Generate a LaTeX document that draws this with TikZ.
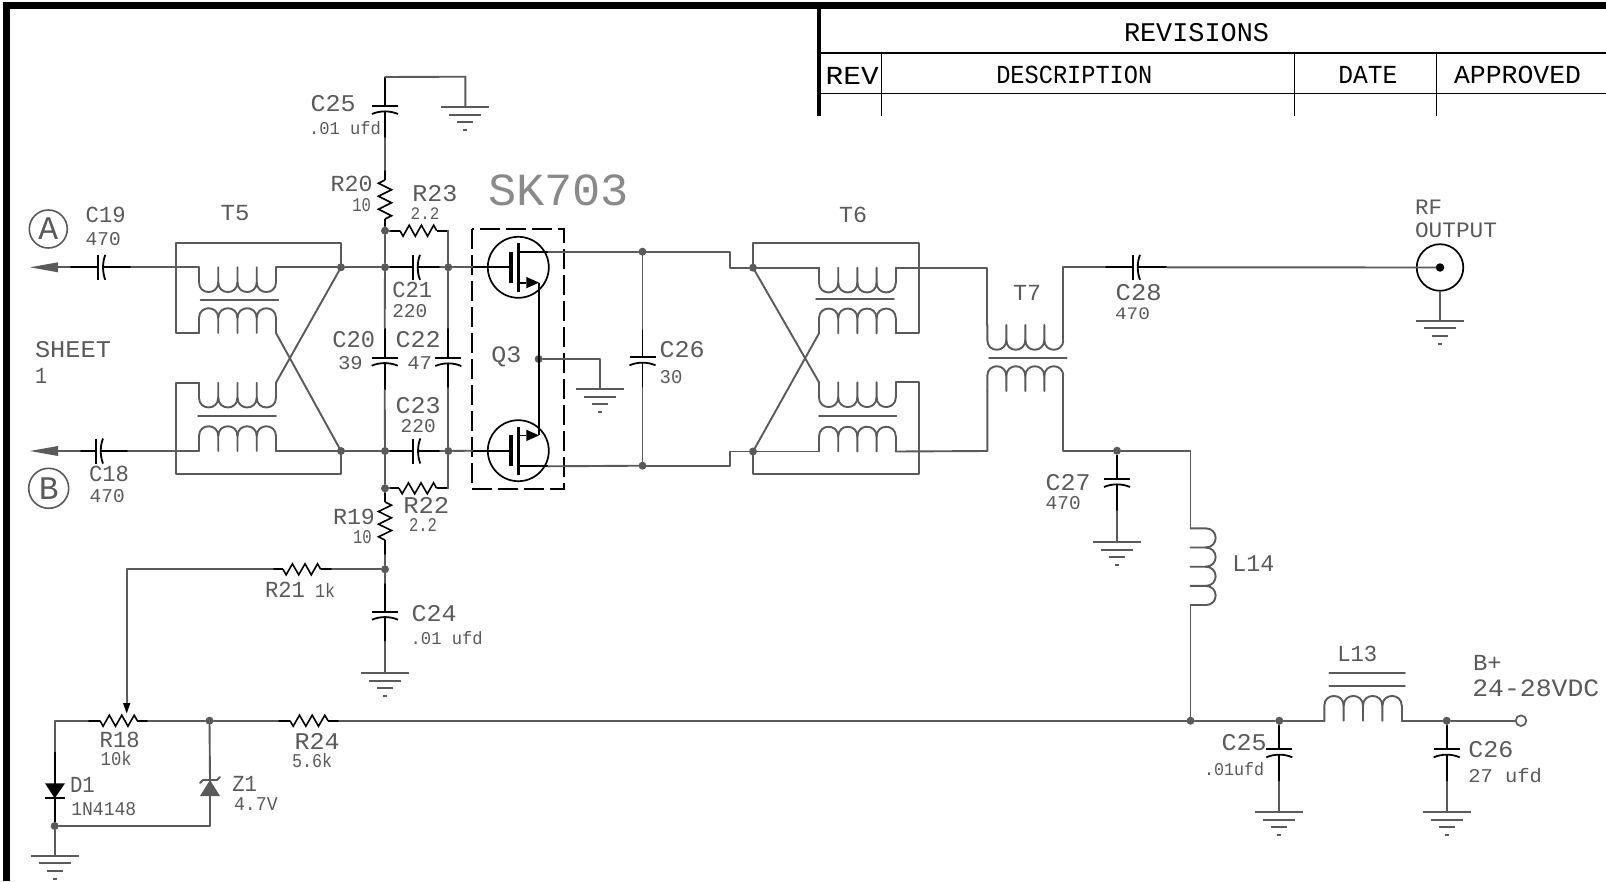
\documentclass[tikz,border=0pt]{standalone}
\usepackage{fontspec}
\setmainfont{Liberation Mono}
\begin{document}
\definecolor{ink}{HTML}{5A5A5A}
\definecolor{soft}{HTML}{8A8A8A}
\def\labcol{ink}
\tikzset{
  wire/.style={draw=ink,line width=1.9pt,line cap=round,line join=round},
  part/.style={draw=black,line width=1.8pt,line cap=butt,line join=miter},
  dot/.style={circle,fill=ink,draw=none,inner sep=0pt,minimum size=8pt},
  lab/.style={inner sep=0pt,outer sep=0pt,anchor=base west,xshift=-1pt}
}
% label: name, x, baseline y, font size, ink width, text
\newcommand\lab[6]{\node[lab,text=\labcol] (#1) at (#2,#3) {\resizebox{\dimexpr#5pt+2pt\relax}{\height}{\fontsize{#4pt}{#4pt}\selectfont #6}};}
% horizontal capacitor: name, plate x, y, left lead, right lead
\newcommand\capH[5]{
  \coordinate (#1-a) at (#4,#3); \coordinate (#1-b) at (#5,#3);
  \begin{scope}[shift={(#2,#3)}]
    \draw[part] (#4-#2,0) -- (0,0) (0,-12.5) -- (0,12.5);
    \draw[part] (7,-12.5) .. controls (4,-5) and (4,5) .. (7,12.5);
    \draw[part] (5,0) -- (#5-#2,0);
  \end{scope}}
% vertical capacitor: name, x, plate y, top lead, bottom lead
\newcommand\capV[5]{
  \coordinate (#1-a) at (#2,#4); \coordinate (#1-b) at (#2,#5);
  \begin{scope}[shift={(#2,#3)}]
    \draw[part] (0,#4-#3) -- (0,0) (-13,0) -- (13,0);
    \draw[part] (-13,8) .. controls (-5,4.5) and (5,4.5) .. (13,8);
    \draw[part] (0,5.5) -- (0,#5-#3);
  \end{scope}}
% horizontal resistor: name, zig start, zig end, y, left lead, right lead
\newcommand\resH[6]{
  \coordinate (#1-a) at (#5,#4); \coordinate (#1-b) at (#6,#4);
  \draw[part] (#1-a) -- (#2,#4);
  \draw[part] (#3,#4) -- (#1-b);
  \pgfmathsetmacro\pp{(#3-#2)/3}
  \begin{scope}[shift={(#2,#4)},x=\pp pt]
    \draw[part,line width=1.6pt] (0,0) -- (.25,5.5) -- (.75,-5.5) -- (1.25,5.5) -- (1.75,-5.5) -- (2.25,5.5) -- (2.75,-5.5) -- (3,0);
  \end{scope}}
% vertical resistor: name, x, zig start, zig end, top lead, bottom lead, first side
\newcommand\resV[7]{
  \coordinate (#1-a) at (#2,#5); \coordinate (#1-b) at (#2,#6);
  \draw[part] (#1-a) -- (#2,#3);
  \draw[part] (#2,#4) -- (#1-b);
  \pgfmathsetmacro\pp{(#4-#3)/3}
  \begin{scope}[shift={(#2,#3)},y=-\pp pt]
    \draw[part,line width=1.6pt] (0,0) -- (#7*6.5,.25) -- (-#7*6.5,.75) -- (#7*6.5,1.25) -- (-#7*6.5,1.75) -- (#7*6.5,2.25) -- (-#7*6.5,2.75) -- (0,3);
  \end{scope}}
% coil: name, x, y of terminals, dir (-1 bumps down, 1 bumps up), bump width
\newcommand\coil[5]{
  \coordinate (#1-l) at (#2,#3);
  \coordinate (#1-r) at (#2+4*#5,#3);
  \begin{scope}[shift={(#2,#3)},y=#4pt]
    \foreach \i in {0,1,2,3}{
      \draw[wire] (\i*#5,0) -- (\i*#5,15)
        .. controls (\i*#5,28) and (\i*#5+#5,28) .. (\i*#5+#5,15);}
    \draw[wire] (4*#5,0) -- (4*#5,15);
  \end{scope}}
% ground: name, x, y
\newcommand\gnd[3]{
  \coordinate (#1) at (#2,#3);
  \begin{scope}[shift={(#2,#3)}]
    \draw[wire,line cap=butt] (-24,0) -- (24,0) (-16,7.7) -- (16,7.7) (-8,15) -- (8,15) (-2,23) -- (2,23);
  \end{scope}}
% mosfet: name, cx, cy, dir
\newcommand\mos[4]{
  \node[circle,draw=black,line width=1.7pt,minimum size=61pt,inner sep=0pt] (#1) at (#2,#3) {};
  \begin{scope}[shift={(#2,#3)},y=#4pt]
    \coordinate (#1-g) at (-46,0);
    \coordinate (#1-d) at (30,-15.6);
    \coordinate (#1-s) at (20.7,15.3);
    \draw[part] (#1-g) -- (-9,0);
    \draw[black,line width=4pt] (-7.3,-15.6) -- (-7.3,15.3);
    \draw[black,line width=3pt] (0,-24.2) -- (0,24.2);
    \draw[part] (0,-15.6) -- (#1-d);
    \draw[part] (0,15.3) -- (8,15.3);
    \fill[black] (8,9.6) -- (20.7,15.3) -- (8,21) -- cycle;
  \end{scope}}
\begin{tikzpicture}[x=1pt,y=-1pt]
\useasboundingbox (0,0) rectangle (1606,881);
\fill[white] (0,0) rectangle (1606,881);
% sheet border
\fill[black] (3.3,2) rectangle (10,881);
\fill[black] (3.3,2) rectangle (1606,8.7);
% revisions table
\coordinate (t0) at (819.3,8);
\coordinate (t0b) at (819.3,116);
\coordinate (h1l) at (819.3,53.3); \coordinate (h1r) at (1606,53.3);
\coordinate (h2l) at (819.3,93.5); \coordinate (h2r) at (1606,93.5);
\coordinate (v1t) at (881.7,53.3); \coordinate (v1b) at (881.7,116);
\coordinate (v2t) at (1294.3,53.3); \coordinate (v2b) at (1294.3,116);
\coordinate (v3t) at (1436.7,53.3); \coordinate (v3b) at (1436.7,116);
\draw[black,line width=4pt] (t0) -- (t0b);
\draw[black,line width=1.8pt] (h1l) -- (h1r) (h2l) -- (h2r);
\draw[black,line width=1.5pt] (v1t) -- (v1b) (v2t) -- (v2b) (v3t) -- (v3b);
\def\labcol{black}
\lab{tRev}{1125}{41.7}{27}{143}{REVISIONS}
\lab{tR}{826.7}{84}{26}{51}{REV}
\lab{tD}{997.3}{83.3}{26}{154}{DESCRIPTION}
\lab{tDa}{1339.3}{83.3}{26}{57}{DATE}
\lab{tAp}{1455}{83.3}{26}{125}{APPROVED}
\def\labcol{ink}

% junctions
\node[dot] (jA) at (341,267.3) {};
\node[dot] (jB) at (341,451) {};
\node[dot] (j1) at (385,267.3) {};
\node[dot] (j2) at (385,230.7) {};
\node[dot] (j3) at (448.3,267.3) {};
\node[dot] (j4) at (385,451) {};
\node[dot] (j5) at (448.3,451) {};
\node[dot] (j6) at (385,488.3) {};
\node[dot] (j7) at (385,569.3) {};
\node[dot] (jQ) at (538.7,359) {};
\node[dot] (jD1) at (642.5,251.7) {};
\node[dot] (jD2) at (642.5,465.7) {};
\node[dot] (jT6a) at (753,267.7) {};
\node[dot] (jT6b) at (753,451.5) {};
\node[dot] (jL) at (1117,450.7) {};
\node[dot] (jV) at (1190.5,720.7) {};
\node[dot] (jC25) at (1279.3,720.7) {};
\node[dot] (jC26) at (1446.7,720.7) {};
\node[dot] (jZ) at (209.5,720.7) {};
\node[dot] (jG) at (54.7,826) {};

% T5
\coil{T5a}{199}{267.3}{-1}{19.25}
\coil{T5b}{199}{333}{1}{19.25}
\coil{T5c}{199}{382.7}{-1}{19.25}
\coil{T5d}{199}{451}{1}{19.25}
\coordinate (T5tl) at (176,243); \coordinate (T5tr) at (341,243);
\coordinate (T5bl) at (176,474.3); \coordinate (T5br) at (341,474.3);
\coordinate (T5ml) at (176,333); \coordinate (T5nl) at (176,382.7);
\coordinate (k1a) at (200.7,300); \coordinate (k1b) at (278.3,300);
\coordinate (k2a) at (198,416); \coordinate (k2b) at (276,416);
\draw[wire] (k1a) -- (k1b) (k2a) -- (k2b);
\draw[wire] (T5b-l) -- (T5ml) -- (T5tl) -- (T5tr) -- (jA.center);
\draw[wire] (T5c-l) -- (T5nl) -- (T5bl) -- (T5br) -- (jB.center);
\draw[wire] (T5b-r) -- (jB.center);
\draw[wire] (T5c-r) -- (jA.center);
\draw[wire] (T5a-r) -- (jA.center);
\draw[wire] (T5d-r) -- (jB.center);

% input arrows and coupling caps
\coordinate (arA) at (58,267.3); \coordinate (arB) at (58,451);
\fill[ink] (30,267.3) -- (58,262.3) -- (58,272.3) -- cycle;
\fill[ink] (30,451) -- (58,446) -- (58,456) -- cycle;
\capH{C19}{98.3}{267.3}{70}{131}
\capH{C18}{96}{451}{80}{128}
\draw[wire] (arA) -- (C19-a);
\draw[wire] (C19-b) -- (T5a-l);
\draw[wire] (arB) -- (C18-a);
\draw[wire] (C18-b) -- (T5d-l);
\draw[wire] (jA) -- (j1);
\draw[wire] (jB) -- (j4);

% gate network
\capH{C21}{413}{267.3}{388}{440}
\capH{C23}{413.3}{451}{388}{440}
\capV{C20}{384.7}{357.7}{328}{390}
\capV{C22}{448.3}{358}{328}{388}
\resH{R23}{400}{436.7}{230.7}{390}{448.3}
\resH{R22}{399}{436.7}{488.3}{390}{448.3}
\resV{R20}{385}{180}{219}{170}{228}{-1}
\resV{R19}{385}{502}{540}{492}{555}{1}
\draw[wire] (j1) -- (C21-a);
\draw[wire] (C21-b) -- (j3);
\draw[wire] (j4) -- (C23-a);
\draw[wire] (C23-b) -- (j5);
\draw[wire] (j2) -- (R23-a);
\draw[wire] (j6) -- (R22-a);
\draw[wire] (R23-b) -- (j3);
\draw[wire] (R22-b) -- (j5);
\draw[wire] (j2) -- (j1);
\draw[wire] (j1) -- (C20-a);
\draw[wire] (C20-b) -- (j4);
\draw[wire] (j3) -- (C22-a);
\draw[wire] (C22-b) -- (j5);
\draw[wire] (j4) -- (j6);
\draw[wire] (j6) -- (R19-a);
\draw[wire] (R19-b) -- (j7);
\draw[wire] (R20-b) -- (j2);

% C25 at top
\capV{C25t}{385}{106}{77}{138}
\gnd{gT}{465.3}{107.3}
\coordinate (topR) at (465.3,76.7);
\draw[wire] (C25t-a) -- (topR) -- (gT);
\draw[wire] (C25t-b) -- (R20-a);

% Q3
\coordinate (qa) at (472.3,229); \coordinate (qb) at (564.3,489);
\draw[black,line width=1.7pt,dash pattern=on 20pt off 6pt] (qa) rectangle (qb);
\mos{Q1}{518.3}{267.3}{-1}
\mos{Q2}{518.3}{450.7}{1}
\draw[wire] (j3) -- (Q1-g);
\draw[wire] (j5) -- (Q2-g);
\draw[part] (Q1-s) -- (Q2-s);
\gnd{gQ}{600}{389}
\coordinate (qg) at (600,359);
\draw[wire] (jQ) -- (qg) -- (gQ);
\draw[wire] (Q1-d) -- (jD1);
\draw[wire] (Q2-d) -- (jD2);

% C26 and links to T6
\capV{C26m}{642.5}{357.3}{329}{388}
\draw[wire] (jD1) -- (C26m-a);
\draw[wire] (C26m-b) -- (jD2);
\coordinate (s1) at (730,251.7); \coordinate (s2) at (730,267.7);
\coordinate (s3) at (730,465.7); \coordinate (s4) at (730,451.5);
\draw[wire] (jD1) -- (s1) -- (s2) -- (jT6a);
\draw[wire] (jD2) -- (s3) -- (s4) -- (jT6b);

% T6
\coil{T6a}{819}{267.7}{-1}{19.2}
\coil{T6b}{819}{333.3}{1}{19.2}
\coil{T6c}{819}{382.3}{-1}{19.2}
\coil{T6d}{819}{451.5}{1}{19.2}
\coordinate (k3a) at (816,299.3); \coordinate (k3b) at (894,299.3);
\coordinate (k4a) at (819,416); \coordinate (k4b) at (896.3,416);
\draw[wire] (k3a) -- (k3b) (k4a) -- (k4b);
\coordinate (T6tl) at (753,242.7); \coordinate (T6tr) at (919,242.7);
\coordinate (T6bl) at (753,474.3); \coordinate (T6br) at (919,474.3);
\coordinate (T6mr) at (919,333.3); \coordinate (T6nr) at (919,382.3);
\draw[wire] (T6b-r) -- (T6mr) -- (T6tr) -- (T6tl) -- (jT6a.center);
\draw[wire] (T6c-r) -- (T6nr) -- (T6br) -- (T6bl) -- (jT6b.center);
\draw[wire] (T6b-l) -- (jT6b.center);
\draw[wire] (T6c-l) -- (jT6a.center);
\draw[wire] (jT6a) -- (T6a-l);
\draw[wire] (jT6b) -- (T6d-l);

% T7
\coil{T7a}{987.3}{325}{-1}{19}
\coil{T7b}{987.3}{391}{1}{19}
\coordinate (k5a) at (989,357.7); \coordinate (k5b) at (1066.7,357.7);
\draw[wire] (k5a) -- (k5b);
\coordinate (u1) at (987.3,267.7); \coordinate (u2) at (987.3,451);
\coordinate (u3) at (1063.3,267.3); \coordinate (u4) at (1063.3,450.7);
\draw[wire] (T6a-r) -- (u1) -- (T7a-l);
\draw[wire] (T6d-r) -- (u2) -- (T7b-l);
\capH{C28}{1133}{267.3}{1105}{1167}
\draw[wire] (T7a-r) -- (u3) -- (C28-a);
\draw[wire] (T7b-r) -- (u4) -- (jL);

% RF output
\node[circle,draw=black,line width=1.7pt,minimum size=46.6pt,inner sep=0pt] (RF) at (1440,267.5) {};
\node[circle,fill=black,inner sep=0pt,minimum size=8.5pt] (RFd) at (1440,267.5) {};
\gnd{gRF}{1440}{320.7}
\draw[wire] (C28-b) -- (RFd);
\draw[wire] (RF.south) -- (gRF);

% C27 and L14
\capV{C27m}{1117}{479}{455}{511}
\gnd{gL}{1117}{542.3}
\draw[wire] (C27m-b) -- (gL);
\coordinate (v1) at (1190.5,450.7);
\coordinate (L14t) at (1190.5,528.3); \coordinate (L14b) at (1190.5,605);
\begin{scope}[shift={(1190.5,528.3)}]
  \foreach \i in {0,1,2,3}{
    \draw[wire] (0,\i*19.2) -- (15,\i*19.2)
      .. controls (28.5,\i*19.2) and (28.5,\i*19.2+19.2) .. (15,\i*19.2+19.2);}
  \draw[wire] (0,76.7) -- (15,76.7);
\end{scope}
\draw[wire] (jL) -- (v1) -- (L14t);
\draw[wire] (L14b) -- (jV);

% bias network
\resH{R21}{283}{320.7}{569.3}{273}{332}
\draw[wire] (j7) -- (R21-b);
\resH{R18}{100}{137.3}{720.7}{88}{148}
\coordinate (wtop) at (126.7,569.3); \coordinate (wtip) at (126.7,705);
\draw[wire] (R21-a) -- (wtop) -- (wtip);
\fill[black] (123,703) -- (130.4,703) -- (126.7,713.5) -- cycle;
\capV{C24m}{385}{611.7}{583}{641.7}
\gnd{gC24}{385}{673.3}
\draw[wire] (j7) -- (C24m-a);
\draw[wire] (C24m-b) -- (gC24);
\resH{R24}{290}{328}{720.7}{278}{339}
\draw[wire] (R18-b) -- (jZ);
\draw[wire] (jZ) -- (R24-a);
\draw[wire] (R24-b) -- (jV);
\coordinate (d0) at (54.7,720.7); \coordinate (d1) at (54.7,751.7);
\draw[wire] (R18-a) -- (d0) -- (d1);
\draw[part] (d1) -- (jG);
\fill[black] (45,783.3) -- (65,783.3) -- (54.7,798.3) -- cycle;
\draw[part] (45,798.3) -- (65,798.3);
\gnd{gG}{54.7}{855.7}
\draw[wire] (jG) -- (gG);
\coordinate (z1) at (210,796); \coordinate (z2) at (210,826); \coordinate (z0) at (210,780);
\fill[ink] (200,796) -- (220,796) -- (210,780) -- cycle;
\draw[wire] (200,783) -- (203,780) -- (217,780) -- (220,777);
\draw[wire] (jZ) -- (z0);
\draw[wire] (z1) -- (z2) -- (jG);

% output side
\capV{C25b}{1279.3}{749.3}{725}{781.7}
\capV{C26b}{1446.7}{749.3}{725}{781.7}
\gnd{gC25}{1279.3}{812.3}
\gnd{gC26}{1446.7}{812.3}
\draw[wire] (jC25) -- (C25b-a);
\draw[wire] (C25b-b) -- (gC25);
\draw[wire] (jC26) -- (C26b-a);
\draw[wire] (C26b-b) -- (gC26);
\coil{L13}{1324.3}{720.7}{1}{19.35}
\coordinate (k6a) at (1329.3,673.3); \coordinate (k6b) at (1405,673.3);
\coordinate (k7a) at (1329.3,686); \coordinate (k7b) at (1405,686);
\draw[wire] (k6a) -- (k6b) (k7a) -- (k7b);
\node[circle,draw=ink,line width=1.7pt,fill=white,minimum size=10.6pt,inner sep=0pt] (term) at (1521,720.7) {};
\draw[wire] (jV) -- (jC25);
\draw[wire] (jC25) -- (L13-l);
\draw[wire] (L13-r) -- (jC26);
\draw[wire] (jC26) -- (term);

% port circles
\node[circle,draw=ink,line width=1.6pt,minimum size=38pt,inner sep=0pt,text=ink] (pA) at (48.3,229) {\fontsize{33pt}{33pt}\selectfont A};
\node[circle,draw=ink,line width=1.6pt,minimum size=40pt,inner sep=0pt,text=ink] (pB) at (48.7,488.3) {\fontsize{33pt}{33pt}\selectfont B};

% labels
\lab{l1}{86.7}{222.7}{23}{38}{C19}
\lab{l2}{86.7}{245}{19.5}{33}{470}
\lab{l3}{221.7}{220.7}{23}{26.7}{T5}
\lab{l4}{90}{481.7}{23}{38}{C18}
\lab{l5}{90.7}{502.7}{19.5}{33}{470}
\lab{l6}{36}{357.3}{24}{74}{SHEET}
\lab{l7}{36}{383.3}{23}{10}{1}
\lab{l8}{393.3}{297.3}{23}{38}{C21}
\lab{l9}{393.3}{317.7}{19.5}{33}{220}
\lab{l10}{333.3}{347.7}{24}{40.7}{C20}
\lab{l11}{339}{369}{19.5}{22.7}{39}
\lab{l12}{396.7}{347.7}{24}{43}{C22}
\lab{l13}{408.3}{369}{19.5}{22.7}{47}
\lab{l14}{396.7}{413.3}{24}{43}{C23}
\lab{l15}{401.7}{432.7}{19.5}{33}{220}
\lab{l16}{331.7}{191.7}{23}{40}{R20}
\lab{l17}{353.3}{211.7}{19.5}{16.7}{10}
\lab{l18}{413.3}{201.5}{24}{43}{R23}
\lab{l19}{411.7}{219.5}{17.5}{26.7}{2.2}
\lab{l20}{311.7}{111.7}{24}{43}{C25}
\lab{l21}{310}{134}{18}{70}{.01 ufd}
\def\labcol{soft}
\lab{l22}{489}{205}{46}{139}{SK703}
\def\labcol{ink}
\lab{l23}{492.3}{362.3}{23.5}{28}{Q3}
\lab{l24}{660.7}{357.3}{24}{43}{C26}
\lab{l25}{660.7}{383.3}{19.5}{20.7}{30}
\lab{l26}{404.3}{513.3}{24}{44}{R22}
\lab{l27}{410}{531.7}{19.5}{26}{2.2}
\lab{l28}{334}{524.4}{23}{40}{R19}
\lab{l29}{354}{543}{19.5}{16.7}{10}
\lab{l30}{266}{597.7}{23}{38}{R21}
\lab{l31}{316}{597.7}{19.5}{18}{1k}
\lab{l32}{412.7}{621.7}{24}{43}{C24}
\lab{l33}{411.7}{644}{18}{70}{.01 ufd}
\lab{l34}{100.7}{747.7}{23}{38}{R18}
\lab{l35}{101.7}{765}{19.5}{29}{10k}
\lab{l36}{295.7}{749}{24}{43}{R24}
\lab{l37}{293}{767.3}{19.5}{38}{5.6k}
\lab{l38}{71}{792.3}{23}{22.7}{D1}
\lab{l39}{72.3}{815}{19.5}{63}{1N4148}
\lab{l40}{233.3}{791.7}{23}{22.7}{Z1}
\lab{l41}{235}{810.7}{19.5}{41.7}{4.7V}
\lab{l42}{1338.3}{661}{23}{38}{L13}
\lab{l43}{1474}{670.7}{23}{26.7}{B+}
\lab{l44}{1473.3}{696.7}{25}{125}{24-28VDC}
\lab{l45}{1222.7}{750}{24}{43}{C25}
\lab{l46}{1205}{775}{18}{58}{.01ufd}
\lab{l47}{1469.3}{757.7}{24}{43}{C26}
\lab{l48}{1469.3}{782.7}{19.5}{71.7}{27 ufd}
\lab{l49}{1233.3}{571}{24}{40}{L14}
\lab{l50}{1046.7}{490}{24}{43}{C27}
\lab{l51}{1046.7}{509}{19.5}{33}{470}
\lab{l52}{1116.7}{300.5}{24}{44}{C28}
\lab{l53}{1116}{319}{17.5}{33}{470}
\lab{l54}{1416}{214.3}{22}{25}{RF}
\lab{l55}{1416}{237.3}{22}{80}{OUTPUT}
\lab{l56}{840}{222.3}{23}{26}{T6}
\lab{l57}{1014}{300}{23}{26}{T7}
\end{tikzpicture}
\end{document}
